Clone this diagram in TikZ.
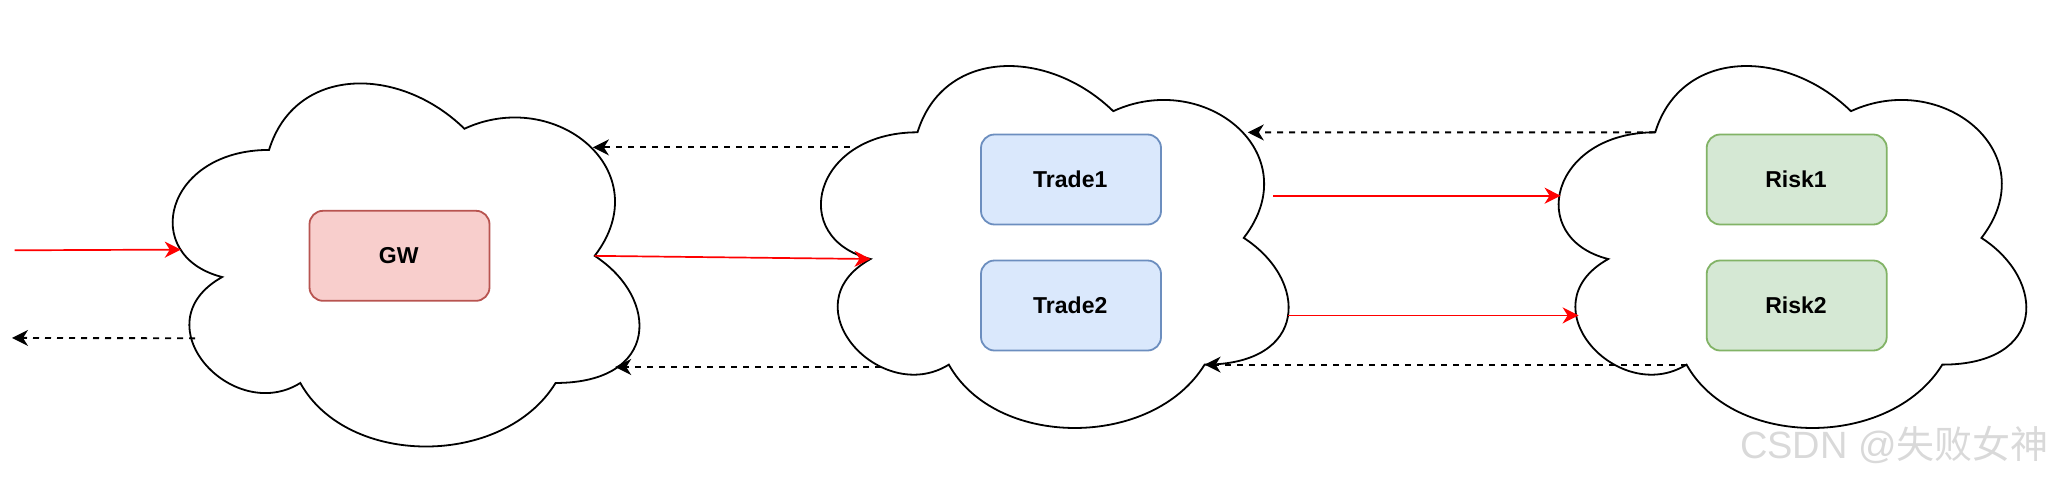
\documentclass[tikz,border=0pt]{standalone}
\usepackage{fontspec}
\setmainfont{Liberation Sans}
\newfontfamily\cjkfont{Noto Sans CJK SC}
\usetikzlibrary{arrows.meta}
\definecolor{gwfill}{HTML}{F8CECC}\definecolor{gwline}{HTML}{B85450}
\definecolor{tradefill}{HTML}{DAE8FC}\definecolor{tradeline}{HTML}{6C8EBF}
\definecolor{riskfill}{HTML}{D5E8D4}\definecolor{riskline}{HTML}{82B366}
\definecolor{wmgray}{HTML}{D9D9D9}
\tikzset{
  cloudline/.style={draw=black,line width=1.8pt,fill=white,line join=miter},
  svcbox/.style={rounded corners=13.5pt,line width=1.8pt,minimum width=180pt,minimum height=90pt,inner sep=0pt,font=\fontsize{23}{27}\selectfont\bfseries,text=black},
  gwbox/.style={svcbox,draw=gwline,fill=gwfill},
  tradebox/.style={svcbox,draw=tradeline,fill=tradefill},
  riskbox/.style={svcbox,draw=riskline,fill=riskfill},
  reqflow/.style={draw=red,line width=1.7pt,-{Stealth[length=16pt,width=16pt,inset=5pt,color=red]}},
  respflow/.style={draw=black,line width=1.9pt,dash pattern=on 6pt off 6pt,-{Stealth[length=16pt,width=16pt,inset=5pt]}},
}
\newcommand{\cloudat}[5]{%
  \begin{scope}[shift={(#2,#3)},x=#4pt,y=-#5pt]
    \draw[cloudline] (0.25,0.25) .. controls (0.05,0.25) and (0,0.5) .. (0.16,0.55)
      .. controls (0,0.66) and (0.18,0.9) .. (0.31,0.8)
      .. controls (0.4,1) and (0.7,1) .. (0.8,0.8)
      .. controls (1,0.8) and (1,0.6) .. (0.875,0.5)
      .. controls (1,0.3) and (0.8,0.1) .. (0.625,0.2)
      .. controls (0.5,0.05) and (0.3,0.05) .. (0.25,0.25) -- cycle;
    \coordinate (#1-a) at (0.25,0.25);
    \coordinate (#1-b) at (0.16,0.55);
    \coordinate (#1-c) at (0.31,0.8);
    \coordinate (#1-d) at (0.8,0.8);
    \coordinate (#1-e) at (0.875,0.5);
  \end{scope}}
\begin{document}
\begin{tikzpicture}[x=1pt,y=-1pt]
\useasboundingbox (0,0) rectangle (2054,480);
\cloudat{cA}{138.8}{44}{521}{423.7}
\cloudat{cB}{787}{26.7}{522}{422.4}
\cloudat{cC}{1524.7}{26.7}{522}{422.4}
\node[gwbox] (gw) at (399.5,255.8) {\kern-1.5pt GW};
\node[tradebox] (t1) at (1071,179.5) {\kern-1.5pt Trade1};
\node[tradebox] (t2) at (1071,305.5) {\kern-1.5pt Trade2};
\node[riskbox] (r1) at (1796.7,179.5) {\kern-1.5pt Risk1};
\node[riskbox] (r2) at (1796.7,305.5) {\kern-1.5pt Risk2};
\coordinate (inS) at (14.7,250.3);
\coordinate (inE) at (180.8,249.6);
\coordinate (outS) at (195,338.3);
\coordinate (outE) at (12,337.9);
\coordinate (b1S) at (849.6,147.4);
\coordinate (a1E) at (592.9,147.4);
\coordinate (b2S) at (880.8,367);
\coordinate (a2E) at (615.2,367);
\coordinate (b3E) at (1247.8,132.4);
\coordinate (b4S) at (1273.2,195.7);
\coordinate (c4E) at (1560.6,195.7);
\coordinate (b5S) at (1288.4,315.4);
\coordinate (c5E) at (1578.6,315.4);
\draw[reqflow] (inS) -- (inE);
\draw[reqflow] (cA-e) -- (cB-b);
\draw[reqflow] (b4S) -- (c4E);
\draw[reqflow] (b5S) -- (c5E);
\draw[respflow] (outS) -- (outE);
\draw[respflow] (b1S) -- (a1E);
\draw[respflow] (b2S) -- (a2E);
\draw[respflow] (cC-a) -- (b3E);
\draw[respflow] (cC-c) -- (cB-d);
\node[anchor=east,inner sep=0pt,text=wmgray,font=\fontsize{38}{43}\selectfont] (wm) at (2049,445) {CSDN @{\cjkfont 失败女神}};
\end{tikzpicture}
\end{document}
